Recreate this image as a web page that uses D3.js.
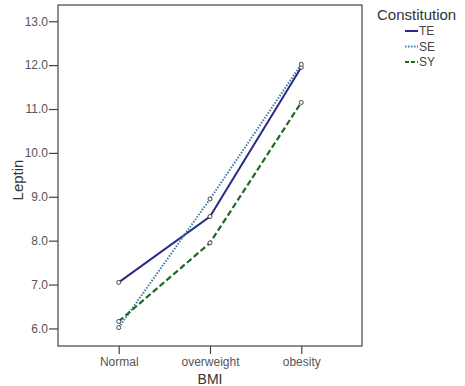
<!DOCTYPE html>
<html>
<head>
<meta charset="utf-8">
<script src="https://cdn.jsdelivr.net/npm/d3@7"></script>
<style>
  body { margin: 0; background: #fff; }
  svg { display: block; font-family: "Liberation Sans", Arial, sans-serif; }
</style>
</head>
<body>
<div id="chart"></div>
<script>
// data
const categories = ["Normal", "overweight", "obesity"];
const seriesNames = ["TE", "SE", "SY"];
const teValues = [7.05, 8.55, 11.95];
const seValues = [6.02, 8.95, 12.02];
const syValues = [6.16, 7.95, 11.15];
const yTicks = [6, 7, 8, 9, 10, 11, 12, 13];

const width = 465;
const height = 386;
const plot = { left: 58, top: 5, right: 362, bottom: 346 };

const svg = d3.select("#chart").append("svg")
    .attr("width", width)
    .attr("height", height);

// scales
const x = d3.scalePoint()
    .domain(categories)
    .range([plot.left, plot.right])
    .padding(0.665);

const y = d3.scaleLinear()
    .domain([5.6, 13.37])
    .range([plot.bottom, plot.top]);

// frame
svg.append("rect")
    .attr("x", plot.left)
    .attr("y", plot.top)
    .attr("width", plot.right - plot.left)
    .attr("height", plot.bottom - plot.top)
    .attr("fill", "none")
    .attr("stroke", "#444")
    .attr("stroke-width", 1.2);

// axes
const yAxis = svg.append("g")
    .attr("transform", `translate(${plot.left},0)`)
    .call(d3.axisLeft(y).tickValues(yTicks).tickFormat(d3.format(".1f")).tickSize(9).tickPadding(1));

const xAxis = svg.append("g")
    .attr("transform", `translate(0,${plot.bottom})`)
    .call(d3.axisBottom(x).tickSize(8).tickPadding(3));

[xAxis, yAxis].forEach(g => {
    g.select(".domain").remove();
    g.selectAll(".tick line").attr("stroke", "#444").attr("stroke-width", 1.2);
    g.selectAll(".tick text")
        .attr("fill", "#555")
        .style("font-size", "12px")
        .style("font-family", "\"Liberation Sans\", Arial, sans-serif");
});

// axis titles
svg.append("text")
    .attr("x", x("overweight"))
    .attr("y", 384)
    .attr("text-anchor", "middle")
    .attr("fill", "#333")
    .style("font-size", "14px")
    .text("BMI");

svg.append("text")
    .attr("transform", `translate(23,180) rotate(-90)`)
    .attr("text-anchor", "middle")
    .attr("fill", "#333")
    .style("font-size", "15px")
    .text("Leptin");

// series
const series = [
    { name: "TE", values: teValues, color: "#2a2a88", dash: null, width: 2 },
    { name: "SE", values: seValues, color: "#3a7ba8", dash: "1.5,1.5", width: 2 },
    { name: "SY", values: syValues, color: "#1d6a1d", dash: "6,3", width: 2.2 }
];

const line = d3.line()
    .x((d, i) => x(categories[i]))
    .y(d => y(d));

series.forEach(s => {
    svg.append("path")
        .datum(s.values)
        .attr("d", line)
        .attr("fill", "none")
        .attr("stroke", s.color)
        .attr("stroke-width", s.width)
        .attr("stroke-dasharray", s.dash);
});

series.forEach(s => {
    svg.append("g").selectAll("circle")
        .data(s.values)
        .enter().append("circle")
        .attr("cx", (d, i) => x(categories[i]))
        .attr("cy", d => y(d))
        .attr("r", 2)
        .attr("fill", "#fff")
        .attr("stroke", "#444")
        .attr("stroke-width", 1);
});

// legend
const legend = svg.append("g");
legend.append("text")
    .attr("x", 377)
    .attr("y", 20)
    .attr("fill", "#333")
    .style("font-size", "15px")
    .text("Constitution");

series.forEach((s, i) => {
    const ly = 35 + i * 15.5;
    legend.append("line")
        .attr("x1", 405).attr("x2", 418)
        .attr("y1", ly - 4).attr("y2", ly - 4)
        .attr("stroke", s.color)
        .attr("stroke-width", 2)
        .attr("stroke-dasharray", s.dash ? (s.name === "SY" ? "4,2" : "1.5,1.5") : null);
    legend.append("text")
        .attr("x", 419)
        .attr("y", ly)
        .attr("fill", "#444")
        .style("font-size", "12px")
        .text(s.name);
});
</script>
</body>
</html>
